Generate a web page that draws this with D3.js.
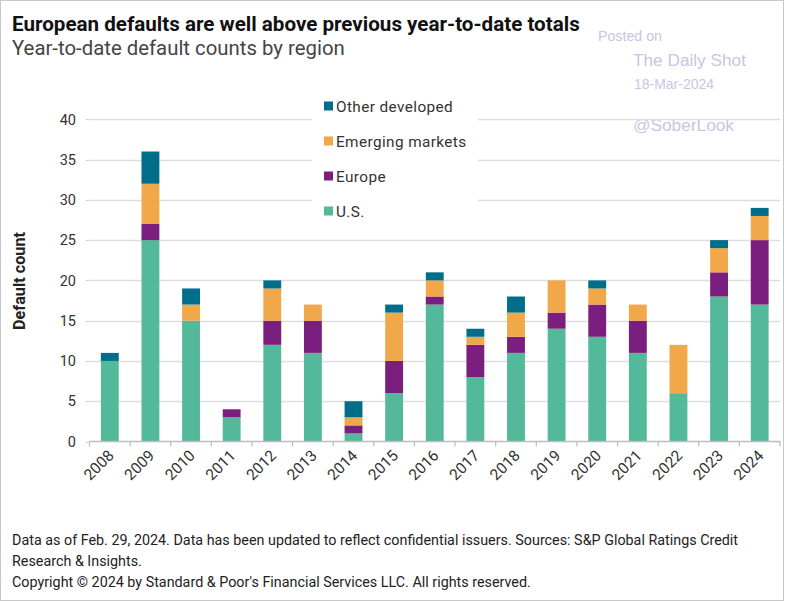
<!DOCTYPE html>
<html><head><meta charset="utf-8">
<script src="https://cdn.jsdelivr.net/npm/d3@7"></script>
<style>
html,body{margin:0;padding:0;background:#fff;}
svg{display:block;}
</style></head>
<body>
<script>
const years = ["2008","2009","2010","2011","2012","2013","2014","2015","2016","2017","2018","2019","2020","2021","2022","2023","2024"];
const usValues     = [10,25,15,3,12,11,1,6,17,8,11,14,13,11,6,18,17];
const europeValues = [0,2,0,1,3,4,1,4,1,4,2,2,4,4,0,3,8];
const emergingValues = [0,5,2,0,4,2,1,6,2,1,3,4,2,2,6,3,3];
const otherValues  = [1,4,2,0,1,0,2,1,1,1,2,0,1,0,0,1,1];
const seriesNames = ["U.S.","Europe","Emerging markets","Other developed"];
const seriesColors = ["#54b99b","#7a1f7e","#f1a84b","#006e89"];
const yTicks = [0,5,10,15,20,25,30,35,40];

const W = 786, H = 602;
const svg = d3.select("body").append("svg").attr("width", W).attr("height", H);
const FONT = "Roboto, 'Liberation Sans', Arial, sans-serif";
const WFONT = "'Liberation Sans', Arial, sans-serif";

function fit(sel, target){
  const n = sel.node();
  let fs = parseFloat(sel.attr("font-size"));
  const w = n.getComputedTextLength();
  if (w > 0) sel.attr("font-size", (fs * target / w).toFixed(2));
  return sel;
}

svg.append("rect").attr("x",0.5).attr("y",0.5).attr("width",783).attr("height",600)
  .attr("fill","#fff").attr("stroke","#c8c8c8");

// titles
const t1 = svg.append("text").attr("x",12).attr("y",31).attr("font-family",FONT)
  .attr("font-weight","bold").attr("font-size",17).attr("fill","#111")
  .text("European defaults are well above previous year-to-date totals");
fit(t1, 568);
const t2 = svg.append("text").attr("x",12).attr("y",55).attr("font-family",FONT)
  .attr("font-size",17).attr("fill","#444")
  .text("Year-to-date default counts by region");
fit(t2, 333);

// watermark
const wm = "#c6c6e4";
fit(svg.append("text").attr("x",598).attr("y",41).attr("font-family",WFONT).attr("font-size",12).attr("fill",wm).text("Posted on"), 64);
fit(svg.append("text").attr("x",633).attr("y",66).attr("font-family",WFONT).attr("font-size",16).attr("fill",wm).text("The Daily Shot"), 113);
fit(svg.append("text").attr("x",634).attr("y",89).attr("font-family",WFONT).attr("font-size",12).attr("fill",wm).text("18-Mar-2024"), 80);
fit(svg.append("text").attr("x",633).attr("y",131).attr("font-family",WFONT).attr("font-size",16).attr("fill",wm).text("@SoberLook"), 101);

// scales
const x = d3.scaleBand().domain(years).range([89.5, 780]).paddingInner(0.56).paddingOuter(0.28);
const y = d3.scaleLinear().domain([0,40]).range([441.5, 119.3]);

// gridlines
const grid = svg.append("g");
yTicks.filter(d=>d>0).forEach(d=>{
  grid.append("line").attr("x1",89.5).attr("x2",780).attr("y1",Math.round(y(d))+0.5).attr("y2",Math.round(y(d))+0.5)
    .attr("stroke","#dedede").attr("stroke-width",1.3);
});

// stacked data
const table = years.map((yr,i)=>({year:yr, "U.S.":usValues[i], "Europe":europeValues[i], "Emerging markets":emergingValues[i], "Other developed":otherValues[i]}));
const stack = d3.stack().keys(seriesNames)(table);
const color = d3.scaleOrdinal().domain(seriesNames).range(seriesColors);

// legend background (covers gridlines)
svg.append("rect").attr("x",312).attr("y",90).attr("width",166).attr("height",135).attr("fill","#fff");

svg.append("g").selectAll("g").data(stack).join("g").attr("fill",d=>color(d.key))
  .selectAll("rect").data(d=>d).join("rect")
  .attr("x",d=>x(d.data.year)).attr("width",x.bandwidth())
  .attr("y",d=>y(d[1])).attr("height",d=>y(d[0])-y(d[1]));

// x axis
const xAxis = svg.append("g").attr("transform",`translate(0,${441.5})`);
xAxis.append("line").attr("x1",89.5).attr("x2",780).attr("y1",0).attr("y2",0).attr("stroke","#bdbdbd").attr("stroke-width",1.3);
const step = x.step();
const bounds = years.map((d,i)=>x(d) - x.paddingInner()*step/2).concat([x(years[years.length-1])+x.bandwidth()+x.paddingInner()*step/2]);
bounds.forEach(b=>{
  xAxis.append("line").attr("x1",b).attr("x2",b).attr("y1",0).attr("y2",5).attr("stroke","#bdbdbd").attr("stroke-width",1.2);
});
years.forEach(yr=>{
  const cx = x(yr)+x.bandwidth()/2 + 5;
  xAxis.append("text").attr("transform",`translate(${cx},${15}) rotate(-45)`)
    .attr("text-anchor","end").attr("font-family",FONT).attr("font-size",15.5).attr("fill","#333").text(yr);
});

// y axis labels
const yAxis = svg.append("g");
yTicks.forEach(d=>{
  yAxis.append("text").attr("x",76).attr("y",y(d)).attr("dy","0.36em").attr("text-anchor","end")
    .attr("font-family",FONT).attr("font-size",14.5).attr("fill","#333").text(d);
  yAxis.append("line").attr("x1",86).attr("x2",89.5).attr("y1",Math.round(y(d))+0.5).attr("y2",Math.round(y(d))+0.5).attr("stroke","#cfcfcf");
});
const yl = svg.append("text").attr("transform","translate(25,281) rotate(-90)").attr("text-anchor","middle")
  .attr("font-family",FONT).attr("font-weight","bold").attr("font-size",14).attr("fill","#222").text("Default count");
fit(yl, 98);

// legend
const legendOrder = ["Other developed","Emerging markets","Europe","U.S."];
const legendY = [106,141,176,211];
let lfs = 14.5;
legendOrder.forEach((k,i)=>{
  svg.append("rect").attr("x",324).attr("y",legendY[i]-4.5).attr("width",9).attr("height",9).attr("fill",color(k));
  const tx = svg.append("text").attr("x",336).attr("y",legendY[i]).attr("dy","0.36em").attr("font-family",FONT)
    .attr("font-size",lfs).attr("fill","#333").attr("letter-spacing","0.4px").text(k);
  if (k === "Emerging markets") { fit(tx, 131); }
});
const emSize = svg.selectAll("text").filter(function(){return d3.select(this).text()==="Emerging markets";}).attr("font-size");
svg.selectAll("text").filter(function(){return legendOrder.includes(d3.select(this).text());}).attr("font-size", emSize);

// footnotes
const f1 = svg.append("text").attr("x",12).attr("y",545).attr("font-family",FONT).attr("font-size",12.5).attr("fill","#222")
  .text("Data as of Feb. 29, 2024. Data has been updated to reflect confidential issuers. Sources: S&P Global Ratings Credit");
fit(f1, 726);
svg.append("text").attr("x",12).attr("y",566).attr("font-family",FONT).attr("font-size",f1.attr("font-size")).attr("fill","#222")
  .text("Research & Insights.");
svg.append("text").attr("x",12).attr("y",587).attr("font-family",FONT).attr("font-size",f1.attr("font-size")).attr("fill","#222")
  .text("Copyright © 2024 by Standard & Poor's Financial Services LLC. All rights reserved.");
</script>
</body></html>
